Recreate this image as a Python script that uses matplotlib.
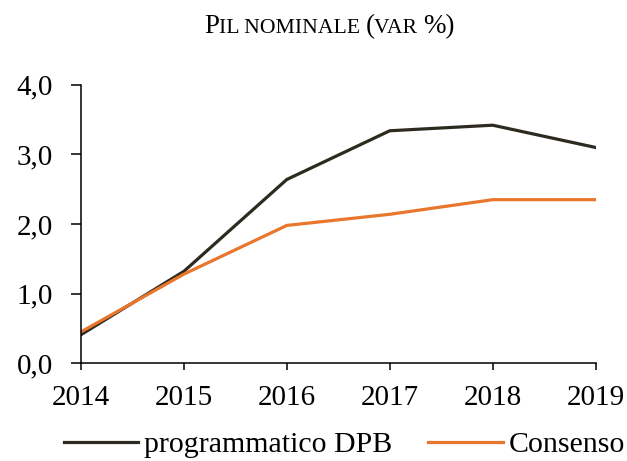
import matplotlib
matplotlib.use("Agg")
import matplotlib.pyplot as plt
from matplotlib.ticker import FuncFormatter

years = [2014, 2015, 2016, 2017, 2018, 2019]
dpb = [0.41, 1.32, 2.64, 3.34, 3.42, 3.10]
consenso = [0.45, 1.28, 1.98, 2.14, 2.35, 2.35]
series_names = ["programmatico DPB", "Consenso"]
yticks = [0, 1, 2, 3, 4]

plt.rcParams['font.family'] = ['Liberation Serif', 'DejaVu Serif']

fig = plt.figure(figsize=(6.27, 4.61), dpi=100)
ax = fig.add_axes([0.129, 0.212, 0.821, 0.604])

ax.plot(years, dpb, color='#2d2a1f', lw=2.3, label=series_names[0])
ax.plot(years, consenso, color='#e8762c', lw=2.3, label=series_names[1])

ax.set_xlim(2014, 2019)
ax.set_ylim(0, 4)
ax.set_xticks(years)
ax.set_yticks(yticks)
ax.yaxis.set_major_formatter(FuncFormatter(lambda v, p: ("%.1f" % v).replace('.', ',')))
ax.spines['top'].set_visible(False)
ax.spines['right'].set_visible(False)
for s in ['left', 'bottom']:
    ax.spines[s].set_linewidth(1.1)
ax.tick_params(axis='y', length=7, width=1.1, labelsize=21, pad=13)
ax.tick_params(axis='x', length=5, width=1.1, labelsize=21, pad=11)

ax.legend(loc='center', bbox_to_anchor=(0.512, -0.292), ncol=2, frameon=False,
          fontsize=21.5, handlelength=2.5, handletextpad=0.2, columnspacing=1.2,
          borderaxespad=0, borderpad=0)

# title in small caps, built from pieces
pieces = [("P", 19.5), ("IL NOMINALE ", 15.6), ("(", 19.5), ("VAR ", 15.6), ("%)", 19.5)]
fig.canvas.draw()
renderer = fig.canvas.get_renderer()
x = 204
for txt, size in pieces:
    t = fig.text(x / 627, 0.928, txt, fontsize=size, va='baseline', ha='left')
    bb = t.get_window_extent(renderer)
    x += bb.width

fig.savefig("out.png", dpi=100)
